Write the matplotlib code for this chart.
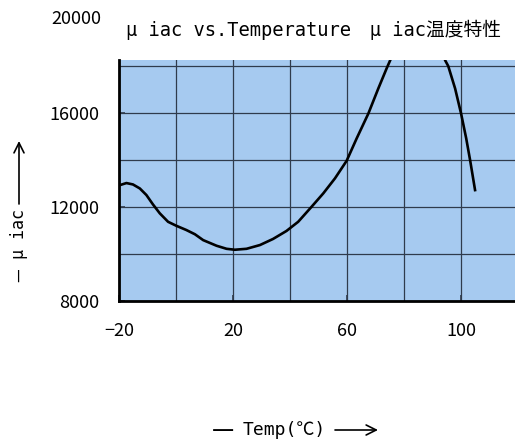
import matplotlib
matplotlib.use("Agg")
import matplotlib.pyplot as plt

plt.rcParams['font.family'] = ['Noto Sans CJK JP', 'DejaVu Sans']
MONO = ['DejaVu Sans Mono', 'Noto Sans CJK JP']

# curve (temperature in degC, initial permeability)
temp = [-20, -19.75, -17.4, -15.1, -12.7, -10.4, -8.1, -5.7, -2.8, 0.1, 3.6,
        6.6, 9.5, 14.2, 17.7, 20.6, 24.7, 29.4, 34.0, 38.7, 42.8, 47.5, 51.6,
        55.7, 59.8, 63.3, 67.4, 70.9, 73.8, 76, 78, 81, 85, 89, 92, 94.3, 95.4,
        97.8, 99.9, 101.7, 103.1, 104.8]
uiac = [12900, 12920, 13010, 12950, 12780, 12500, 12100, 11720, 11360, 11190,
        11010, 10830, 10580, 10340, 10210, 10170, 10210, 10370, 10630, 10970,
        11360, 12000, 12570, 13210, 13960, 14910, 15970, 17040, 17890, 18500,
        19000, 19600, 20100, 19900, 19100, 18240, 17990, 17040, 15970, 14910,
        13960, 12710]

x_major = [-20, 20, 60, 100]
x_minor = [0, 40, 80]
y_major = [8000, 12000, 16000]
y_minor = [10000, 14000, 18000]
y_top_label = 20000

title = "μ iac vs.Temperature\u3000μ iac温度特性"

fig = plt.figure(figsize=(5.15, 4.46), dpi=100)
ax = fig.add_axes([119 / 515, (446 - 300.7) / 446, (515 - 119) / 515, (300.7 - 60) / 446])
ax.set_facecolor("#a6caf0")

ax.plot(temp, uiac, color="black", linewidth=1.9, solid_joinstyle="round")
ax.set_xlim(-20, 118.8)
ax.set_ylim(8000, 18250)

ax.set_xticks(x_major)
ax.set_xticks(x_minor, minor=True)
ax.set_yticks(y_major)
ax.set_yticks(y_minor, minor=True)
ax.grid(True, which="both", color="#2f3b4c", linewidth=0.9)
ax.set_axisbelow(True)
ax.tick_params(which="major", direction="in", length=4, width=1.2, color="#2f3b4c",
               labelsize=13)
ax.tick_params(axis="x", which="major", pad=15)
ax.tick_params(axis="y", which="major", pad=14)
ax.tick_params(which="minor", length=0)

for side in ("top", "right"):
    ax.spines[side].set_visible(False)
for side in ("left", "bottom"):
    ax.spines[side].set_linewidth(2.0)
    ax.spines[side].set_color("black")

# the 20000 label sits above the clipped plot area
ax.text(-(119 - 101) / 396, y_top_label, "20000", transform=ax.get_yaxis_transform(),
        ha="right", va="center", fontsize=13, clip_on=False)

fig.text(314 / 515, (446 - 30) / 446, title, ha="center", va="center",
         fontsize=13.5, family=MONO)

arrow = dict(arrowstyle="->,head_length=0.6,head_width=0.3", color="black",
             linewidth=1.2, shrinkA=0, shrinkB=0, mutation_scale=12)

# y axis label with arrow
fig.text(19 / 515, 1 - 275 / 446, "—", rotation=90, ha="center", va="center",
         fontsize=11)
fig.text(19 / 515, 1 - 234 / 446, "μ iac", rotation=90, ha="center", va="center",
         fontsize=12, family=MONO)
ax.annotate("", xy=(19, 446 - 141), xytext=(19, 446 - 204),
            xycoords="figure pixels", textcoords="figure pixels", arrowprops=arrow)

# x axis label with arrow
fig.text(223 / 515, 1 - 430 / 446, "—", ha="center", va="center", fontsize=18)
fig.text(284 / 515, 1 - 430 / 446, "Temp(℃)", ha="center", va="center",
         fontsize=13, family=MONO)
ax.annotate("", xy=(378, 446 - 430), xytext=(335, 446 - 430),
            xycoords="figure pixels", textcoords="figure pixels", arrowprops=arrow)

fig.savefig("out.png", dpi=100)
